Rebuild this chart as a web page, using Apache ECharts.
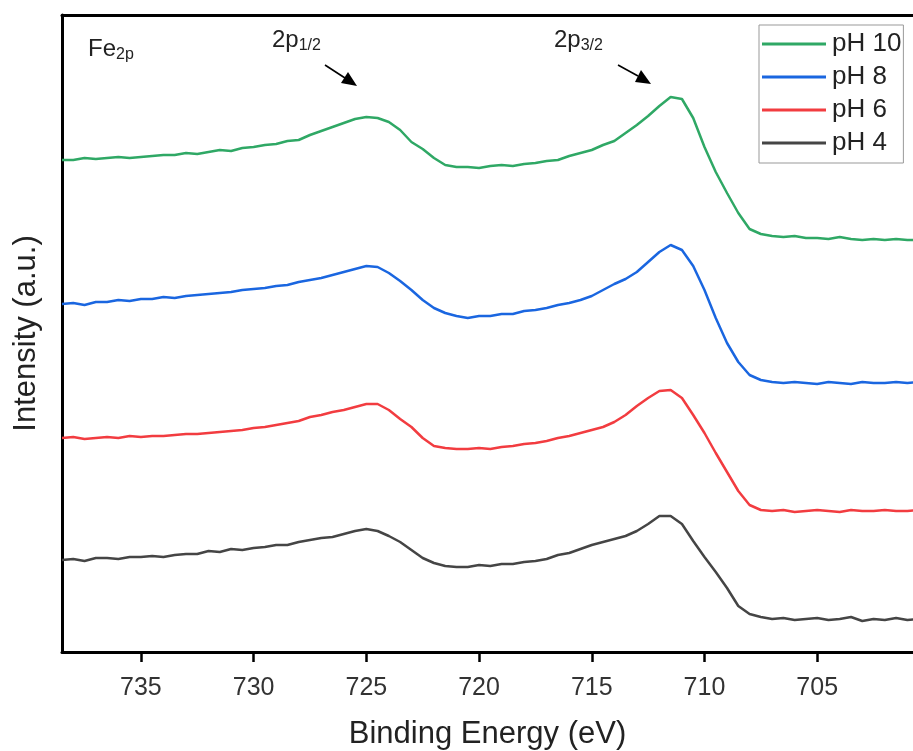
<!DOCTYPE html>
<html>
<head>
<meta charset="utf-8">
<script src="https://cdn.jsdelivr.net/npm/echarts@6/dist/echarts.min.js"></script>
<style>
  html, body { margin: 0; padding: 0; background: #fff; }
  #chart { width: 913px; height: 751px; }
</style>
</head>
<body>
<div id="chart"></div>
<script>
// binding energy grid, 738.5 -> 700.5 eV in 0.5 eV steps
var energy = [];
for (var e = 738.5; e >= 700.49; e -= 0.5) energy.push(+e.toFixed(1));

var tickValues = [705, 710, 715, 720, 725, 730, 735];

// intensities (a.u., stacked offsets)
var ph10 = [492, 492, 494, 493, 494, 495, 494, 495, 496, 497, 497, 499, 498, 500, 502, 501, 504, 505, 507, 508,
  511, 512, 517, 521, 525, 529, 533, 535, 534, 530, 522, 510, 503, 494, 487, 485, 485, 484, 486, 487,
  486, 488, 489, 491, 492, 496, 499, 502, 507, 511, 519, 527, 536, 546, 555, 553, 534, 505, 480, 459,
  439, 423, 418, 416, 415, 416, 414, 414, 413, 415, 413, 412, 413, 412, 413, 412, 412];
var ph8 = [348, 349, 347, 350, 350, 352, 351, 353, 353, 355, 354, 356, 357, 358, 359, 360, 362, 363, 364, 366,
  367, 370, 372, 374, 377, 380, 383, 386, 385, 379, 371, 362, 352, 344, 339, 336, 334, 336, 336, 338,
  338, 341, 342, 344, 347, 349, 352, 356, 362, 368, 373, 380, 390, 400, 407, 402, 386, 362, 334, 309,
  290, 277, 272, 270, 269, 270, 269, 268, 270, 269, 268, 270, 269, 269, 270, 269, 270];
var ph6 = [214, 215, 213, 214, 215, 214, 216, 215, 216, 216, 217, 218, 218, 219, 220, 221, 222, 224, 225, 227,
  229, 231, 235, 237, 240, 242, 245, 248, 248, 242, 233, 225, 214, 206, 204, 203, 203, 204, 203, 205,
  206, 208, 209, 211, 214, 216, 219, 222, 225, 230, 237, 246, 254, 261, 262, 254, 237, 219, 199, 180,
  161, 147, 142, 141, 142, 140, 141, 142, 141, 140, 142, 141, 141, 142, 141, 141, 142];
var ph4 = [92, 93, 91, 94, 94, 93, 95, 95, 96, 95, 97, 98, 98, 101, 100, 103, 102, 104, 105, 107,
  107, 110, 112, 114, 115, 118, 121, 123, 121, 116, 110, 102, 94, 89, 86, 85, 85, 87, 86, 88,
  88, 90, 91, 93, 97, 99, 103, 107, 110, 113, 116, 121, 128, 136, 136, 128, 111, 95, 80, 64,
  46, 38, 35, 33, 34, 32, 33, 34, 32, 33, 35, 31, 33, 32, 34, 32, 33];

var seriesNames = ['pH 10', 'pH 8', 'pH 6', 'pH 4'];
var seriesColors = ['#2fa865', '#1a66e0', '#f23c40', '#454545'];
var seriesData = [ph10, ph8, ph6, ph4];

function pairs(values) {
  return energy.map(function (x, i) { return [x, values[i]]; });
}

var font = '"Liberation Sans", Arial, sans-serif';

var chart = echarts.init(document.getElementById('chart'));

var option = {
  backgroundColor: '#fff',
  animation: false,
  grid: { left: 62, top: 15, right: 0, bottom: 99, outerBoundsMode: 'none' },
  legend: {
    data: seriesNames,
    orient: 'vertical',
    left: 759,
    top: 25,
    padding: [6, 2, 7, 3],
    itemGap: 7,
    itemWidth: 64,
    itemHeight: 3,
    icon: 'rect',
    borderColor: '#999',
    borderWidth: 1,
    textStyle: { fontFamily: font, fontSize: 26, color: '#222', lineHeight: 26, padding: [0, 0, 0, 1] }
  },
  xAxis: [{
    type: 'value',
    inverse: true,
    min: 700.75,
    max: 738.5,
    name: 'Binding Energy (eV)',
    nameLocation: 'middle',
    nameGap: 67,
    nameTextStyle: { fontFamily: font, fontSize: 31, color: '#222' },
    axisLine: { show: true, onZero: false, lineStyle: { color: '#000', width: 3 } },
    axisTick: { show: true, customValues: tickValues, length: 10, lineStyle: { color: '#000', width: 2.5 } },
    axisLabel: { customValues: tickValues, margin: 24, fontFamily: font, fontSize: 25, color: '#333' },
    splitLine: { show: false }
  }, {
    type: 'value',
    position: 'top',
    inverse: true,
    min: 700.75,
    max: 738.5,
    axisLine: { show: true, onZero: false, lineStyle: { color: '#000', width: 3 } },
    axisTick: { show: false },
    axisLabel: { show: false },
    splitLine: { show: false }
  }],
  yAxis: {
    type: 'value',
    min: 0,
    max: 637,
    name: 'Intensity (a.u.)',
    nameLocation: 'middle',
    nameGap: 20,
    nameTextStyle: { fontFamily: font, fontSize: 31, color: '#222' },
    axisLine: { show: true, onZero: false, lineStyle: { color: '#000', width: 3 } },
    axisTick: { show: false },
    axisLabel: { show: false },
    splitLine: { show: false }
  },
  graphic: [
    { type: 'text', left: 88, top: 37, style: {
      text: '{b|Fe}{s|2p}', fontFamily: font,
      rich: { b: { fontSize: 24, fill: '#222' }, s: { fontSize: 16, fill: '#222', padding: [11, 0, 0, 0] } } } },
    { type: 'text', left: 272, top: 28, style: {
      text: '{b|2p}{s|1/2}', fontFamily: font,
      rich: { b: { fontSize: 24, fill: '#222' }, s: { fontSize: 16, fill: '#222', padding: [11, 0, 0, 0] } } } },
    { type: 'text', left: 554, top: 28, style: {
      text: '{b|2p}{s|3/2}', fontFamily: font,
      rich: { b: { fontSize: 24, fill: '#222' }, s: { fontSize: 16, fill: '#222', padding: [11, 0, 0, 0] } } } },
    { type: 'line', shape: { x1: 325, y1: 65, x2: 345, y2: 78 }, style: { stroke: '#000', lineWidth: 1.6 } },
    { type: 'polygon', shape: { points: [[357, 86], [341, 83], [348, 72]] }, style: { fill: '#000' } },
    { type: 'line', shape: { x1: 618, y1: 65, x2: 638, y2: 76 }, style: { stroke: '#000', lineWidth: 1.6 } },
    { type: 'polygon', shape: { points: [[651, 84], [635, 82], [641, 70]] }, style: { fill: '#000' } }
  ],
  series: seriesNames.map(function (name, i) {
    return {
      name: name,
      type: 'line',
      xAxisIndex: 0,
      data: pairs(seriesData[i]),
      showSymbol: false,
      symbol: 'none',
      smooth: false,
      color: seriesColors[i],
      lineStyle: { width: 2.5, color: seriesColors[i] }
    };
  })
};

chart.setOption(option);
</script>
</body>
</html>
